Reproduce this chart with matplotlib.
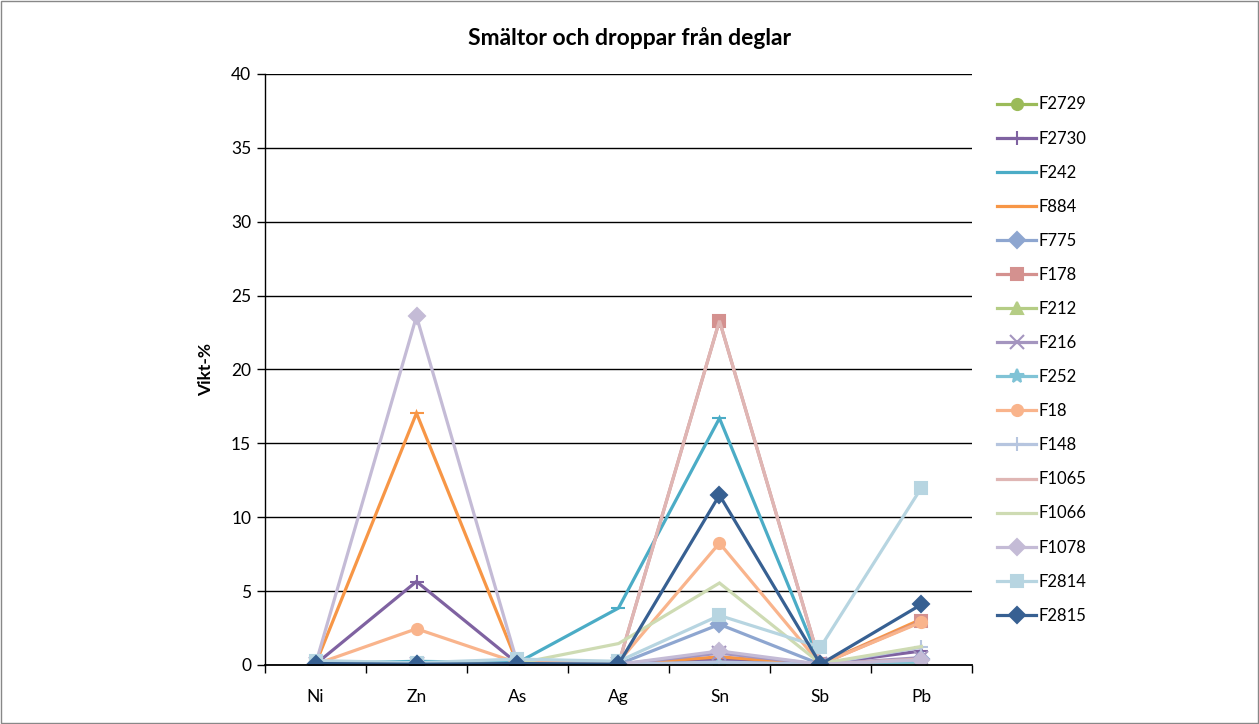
import matplotlib.pyplot as plt
import numpy as np

# Kategorier och serier (vikt-%)
elements = ['Ni', 'Zn', 'As', 'Ag', 'Sn', 'Sb', 'Pb']

F2729 = [0.05, 0.05, 0.05, 0.05, 0.1, 0.05, 0.05]
F2730 = [0.05, 5.65, 0.1, 0.05, 0.4, 0.05, 0.95]
F242 = [0.1, 0.25, 0.15, 3.85, 16.7, 0.1, 0.3]
F884 = [0.05, 17.05, 0.1, 0.05, 0.55, 0.05, 3.1]
F775 = [0.05, 0.05, 0.05, 0.05, 2.75, 0.05, 0.4]
F178 = [0.05, 0.05, 0.05, 0.05, 23.3, 0.05, 2.95]
F212 = [0.05, 0.05, 0.05, 0.05, 0.05, 0.05, 0.05]
F216 = [0.05, 0.05, 0.05, 0.05, 0.8, 0.05, 0.5]
F252 = [0.1, 0.15, 0.1, 0.05, 0.1, 0.05, 0.2]
F18 = [0.05, 2.45, 0.15, 0.2, 8.25, 0.05, 2.9]
F148 = [0.05, 0.05, 0.05, 0.05, 0.2, 0.05, 1.2]
F1065 = [0.05, 0.05, 0.05, 0.05, 23.3, 0.05, 0.4]
F1066 = [0.05, 0.05, 0.1, 1.45, 5.55, 0.1, 1.25]
F1078 = [0.05, 23.6, 0.1, 0.05, 0.95, 0.05, 0.35]
F2814 = [0.3, 0.15, 0.4, 0.25, 3.35, 1.2, 12.0]
F2815 = [0.1, 0.05, 0.1, 0.05, 11.5, 0.05, 4.1]

serier = [
    ('F2729', F2729, '#9BBB59', 'o'),
    ('F2730', F2730, '#7F62A1', '+'),
    ('F242', F242, '#4BACC6', '_'),
    ('F884', F884, '#F79646', '_'),
    ('F775', F775, '#8EA6D0', 'D'),
    ('F178', F178, '#D4918F', 's'),
    ('F212', F212, '#B5CD85', '^'),
    ('F216', F216, '#A495BF', 'x'),
    ('F252', F252, '#80C3D6', '*'),
    ('F18', F18, '#F9B48C', 'o'),
    ('F148', F148, '#B6C5DF', '+'),
    ('F1065', F1065, '#DFB6B4', None),
    ('F1066', F1066, '#CEDBB3', None),
    ('F1078', F1078, '#C4BBD6', 'D'),
    ('F2814', F2814, '#B7D5E1', 's'),
    ('F2815', F2815, '#376092', 'D'),
]

plt.rcParams['font.family'] = ['Lato', 'DejaVu Sans']

fig = plt.figure(figsize=(12.59, 7.24), dpi=100)
ax = fig.add_axes([0.2105, 0.0815, 0.5615, 0.8163])

x = np.arange(len(elements))
for namn, varden, farg, mark in serier:
    ms = 8
    if mark in ('+', 'x', '*', '_'):
        ms = 10
    ax.plot(x, varden, color=farg, lw=2.3, marker=mark, ms=ms,
            mew=1.5, label=namn, solid_joinstyle='miter')

ax.set_xlim(-0.5, 6.5)
ax.set_ylim(0, 40)
ax.set_yticks(range(0, 41, 5))
ax.set_xticks(x)
ax.set_xticklabels(elements)
ax.set_xticks(np.arange(-0.5, 7, 1), minor=True)
ax.tick_params(axis='x', which='major', length=0, pad=17, labelsize=12.5)
ax.tick_params(axis='x', which='minor', length=6, direction='out', width=1)
ax.tick_params(axis='y', length=6, width=1, labelsize=12.5, pad=4)
ax.grid(axis='y', color='black', lw=1)
ax.set_axisbelow(True)
for s in ['top', 'right']:
    ax.spines[s].set_visible(False)
ax.spines['left'].set_linewidth(1)
ax.spines['bottom'].set_linewidth(1.3)
ax.set_ylabel('Vikt-%', fontsize=12.5, fontweight='bold', labelpad=12)

fig.text(0.5, 0.948, 'Smältor och droppar från deglar', ha='center',
         va='center', fontsize=16.5, fontweight='bold')

fig.legend(loc='upper left', bbox_to_anchor=(0.787, 0.876), frameon=False,
           fontsize=12, handlelength=2.3, handletextpad=0.15,
           labelspacing=1.085, borderaxespad=0)

fig.patches.append(plt.Rectangle((0.001, 0.001), 0.998, 0.998,
                                 transform=fig.transFigure, fill=False,
                                 edgecolor='#888888', lw=1))

fig.savefig('out.png', dpi=100)
